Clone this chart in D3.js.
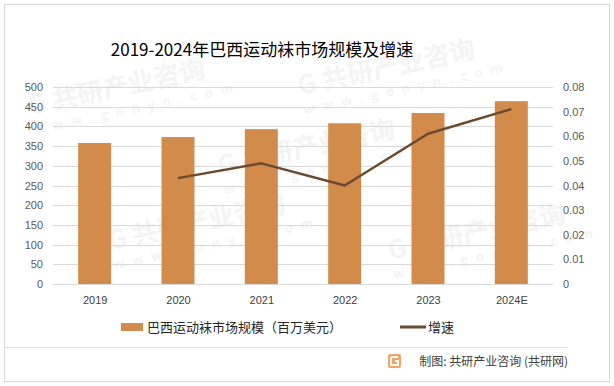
<!DOCTYPE html>
<html>
<head>
<meta charset="utf-8">
<script src="https://cdn.jsdelivr.net/npm/d3@7"></script>
<style>
  body { margin: 0; background: #fff; }
  svg text { font-family: "Microsoft YaHei", "Noto Sans CJK SC", "Liberation Sans", sans-serif; }
</style>
</head>
<body>
<script>
var years = ["2019", "2020", "2021", "2022", "2023", "2024E"];
var marketSize = [358, 373, 393, 408, 434, 464];
var growth = [null, 0.043, 0.049, 0.040, 0.061, 0.071];
var leftTicks = [0, 50, 100, 150, 200, 250, 300, 350, 400, 450, 500];
var rightTicks = [0, 0.01, 0.02, 0.03, 0.04, 0.05, 0.06, 0.07, 0.08];

var W = 614, H = 386;
var plotL = 53, plotR = 553, plotT = 87, plotB = 284;

var svg = d3.select("body").append("svg")
    .attr("width", W)
    .attr("height", H);

svg.append("rect")
    .attr("x", 4.5).attr("y", 4.5)
    .attr("width", W - 9).attr("height", H - 9)
    .attr("fill", "#fff")
    .attr("stroke", "#d9d9d9")
    .attr("stroke-width", 1);

// faint watermarks (kept inside the frame)
var wm = svg.append("g").attr("fill", "#f4f4f4").attr("font-weight", "bold");
var marks = [[30, 115], [300, 95], [110, 250], [390, 260], [220, 175]];
marks.forEach(function(p) {
    var g = wm.append("g").attr("transform", "translate(" + p[0] + "," + p[1] + ") rotate(-12)");
    g.append("text").attr("font-size", 26).text("G 共研产业咨询");
    g.append("text").attr("y", 20).attr("font-size", 13).attr("letter-spacing", 8).text("www.gonyn.com");
});

var xc = d3.scalePoint().domain(years).range([plotL, plotR]).padding(0.5);
var yL = d3.scaleLinear().domain([0, 500]).range([plotB, plotT]);
var yR = d3.scaleLinear().domain([0, 0.08]).range([plotB, plotT]);

// gridlines
svg.append("g")
    .selectAll("line")
    .data(leftTicks)
    .join("line")
    .attr("x1", plotL).attr("x2", plotR)
    .attr("y1", function(d) { return Math.round(yL(d)) + 0.5; })
    .attr("y2", function(d) { return Math.round(yL(d)) + 0.5; })
    .attr("stroke", "#d9d9d9")
    .attr("stroke-width", 1);

// axes
var axL = svg.append("g")
    .attr("transform", "translate(" + (plotL - 10) + ",0)")
    .call(d3.axisLeft(yL).tickValues(leftTicks).tickSize(0).tickPadding(0));
var axR = svg.append("g")
    .attr("transform", "translate(" + (plotR + 10) + ",0)")
    .call(d3.axisRight(yR).tickValues(rightTicks).tickSize(0).tickPadding(0)
        .tickFormat(function(d) { return d === 0 ? "0" : d3.format(".2f")(d); }));
var axX = svg.append("g")
    .attr("transform", "translate(0," + (plotB + 12) + ")")
    .call(d3.axisBottom(xc).tickSize(0).tickPadding(0));
[axL, axR, axX].forEach(function(a) {
    a.select(".domain").remove();
    a.selectAll("text")
        .attr("font-size", 11)
        .attr("fill", "#595959")
        .style("font-family", "\"Liberation Sans\", sans-serif");
});
axX.selectAll("text").attr("fill", "#404040");

// bars
svg.append("g")
    .selectAll("rect")
    .data(marketSize)
    .join("rect")
    .attr("x", function(d, i) { return xc(years[i]) - 16.5; })
    .attr("width", 33)
    .attr("y", function(d) { return yL(d); })
    .attr("height", function(d) { return plotB - yL(d); })
    .attr("fill", "#D38B4C");

// growth line
var line = d3.line()
    .defined(function(d) { return d != null; })
    .x(function(d, i) { return xc(years[i]); })
    .y(function(d) { return yR(d); });
svg.append("path")
    .datum(growth)
    .attr("d", line)
    .attr("fill", "none")
    .attr("stroke", "#6B4A2E")
    .attr("stroke-width", 2.5)
    .attr("stroke-linejoin", "round");

// title
svg.append("text")
    .attr("x", 262).attr("y", 56)
    .attr("text-anchor", "middle")
    .attr("font-size", 17)
    .attr("fill", "#000")
    .text("2019-2024年巴西运动袜市场规模及增速");

// legend
svg.append("rect")
    .attr("x", 121).attr("y", 323).attr("width", 22).attr("height", 8)
    .attr("fill", "#D38B4C");
svg.append("text")
    .attr("x", 147).attr("y", 332)
    .attr("font-size", 13).attr("fill", "#262626")
    .text("巴西运动袜市场规模（百万美元）");
svg.append("line")
    .attr("x1", 400).attr("x2", 426).attr("y1", 327).attr("y2", 327)
    .attr("stroke", "#6B4A2E").attr("stroke-width", 3);
svg.append("text")
    .attr("x", 428).attr("y", 332)
    .attr("font-size", 13).attr("fill", "#262626")
    .text("增速");

// footer
svg.append("line")
    .attr("x1", 5).attr("x2", 567).attr("y1", 347.5).attr("y2", 347.5)
    .attr("stroke", "#e0e0e0");
var logo = svg.append("g").attr("transform", "translate(388,354)");
logo.append("rect").attr("width", 13).attr("height", 14).attr("rx", 2).attr("fill", "#F0A46A");
logo.append("path").attr("d", "M3,3 H10 M3,3 V11 H10 V7 H7")
    .attr("fill", "none").attr("stroke", "#fff").attr("stroke-width", 2);
svg.append("text")
    .attr("x", 568).attr("y", 366)
    .attr("text-anchor", "end")
    .attr("font-size", 12).attr("fill", "#404040")
    .text("制图: 共研产业咨询 (共研网)");
</script>
</body>
</html>
